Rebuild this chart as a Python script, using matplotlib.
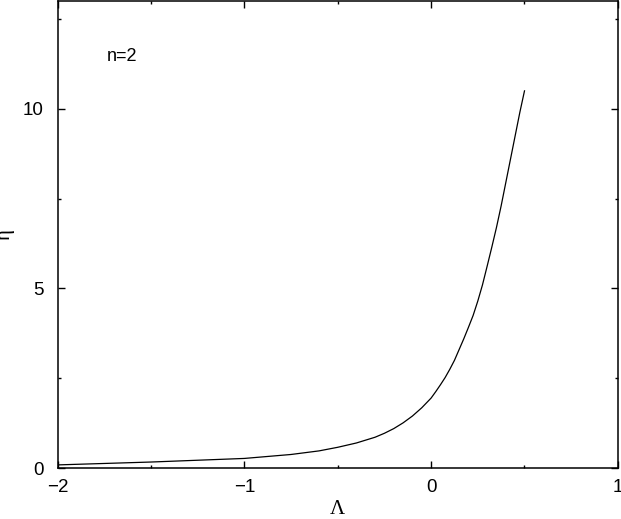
import matplotlib
matplotlib.use('Agg')
import matplotlib.pyplot as plt
from matplotlib.ticker import MultipleLocator

# values
lam = [-2.0, -1.75, -1.5, -1.25, -1.0, -0.75, -0.6, -0.5, -0.4, -0.3, -0.25,
       -0.2, -0.15, -0.1, -0.05, 0.0, 0.025, 0.05, 0.075, 0.1, 0.125, 0.15,
       0.175, 0.2, 0.225, 0.25, 0.275, 0.3, 0.325, 0.35, 0.375, 0.4, 0.425,
       0.45, 0.475, 0.5]
eta = [0.09, 0.13, 0.17, 0.22, 0.27, 0.38, 0.48, 0.58, 0.70, 0.86, 0.97,
       1.1, 1.26, 1.45, 1.68, 1.95, 2.13, 2.32, 2.52, 2.75, 3.0, 3.3,
       3.6, 3.92, 4.25, 4.65, 5.1, 5.62, 6.15, 6.7, 7.3, 7.95, 8.6,
       9.25, 9.9, 10.5]

x_ticks = [-2, -1, 0, 1]
y_ticks = [0, 5, 10]
label_text = 'n=2'

plt.rcParams['font.family'] = ['Liberation Sans', 'DejaVu Sans']

fig = plt.figure(figsize=(6.21, 5.19), dpi=100)
ax = fig.add_axes([0.0926, 0.098, 0.9024, 0.900])

ax.plot(lam, eta, color='black', linewidth=0.9)

ax.set_xlim(-2, 1)
ax.set_ylim(0, 13)
ax.set_xticks(x_ticks)
ax.set_xticklabels(['\u22122', '\u22121', '0', '1'])
ax.set_yticks(y_ticks)
ax.xaxis.set_minor_locator(MultipleLocator(0.5))
ax.yaxis.set_minor_locator(MultipleLocator(2.5))

ax.tick_params(which='both', direction='in', top=True, right=True, labelsize=13.5)
ax.tick_params(which='major', length=5, width=1)
ax.tick_params(which='minor', length=2.5, width=1)
ax.tick_params(axis='x', pad=8)
ax.tick_params(axis='y', pad=10)
for s in ax.spines.values():
    s.set_linewidth(1.1)

ax.text(-1.735, 11.45, label_text, fontsize=13, va='center', ha='left')

ax.set_xlabel('\u039b', fontsize=15, family='Liberation Serif')
ax.set_ylabel('\u03b7', fontsize=15, family='Liberation Serif')
ax.xaxis.set_label_coords(0.5, -0.068)
ax.yaxis.set_label_coords(-0.076, 0.5)

fig.savefig('out.png', dpi=100)
